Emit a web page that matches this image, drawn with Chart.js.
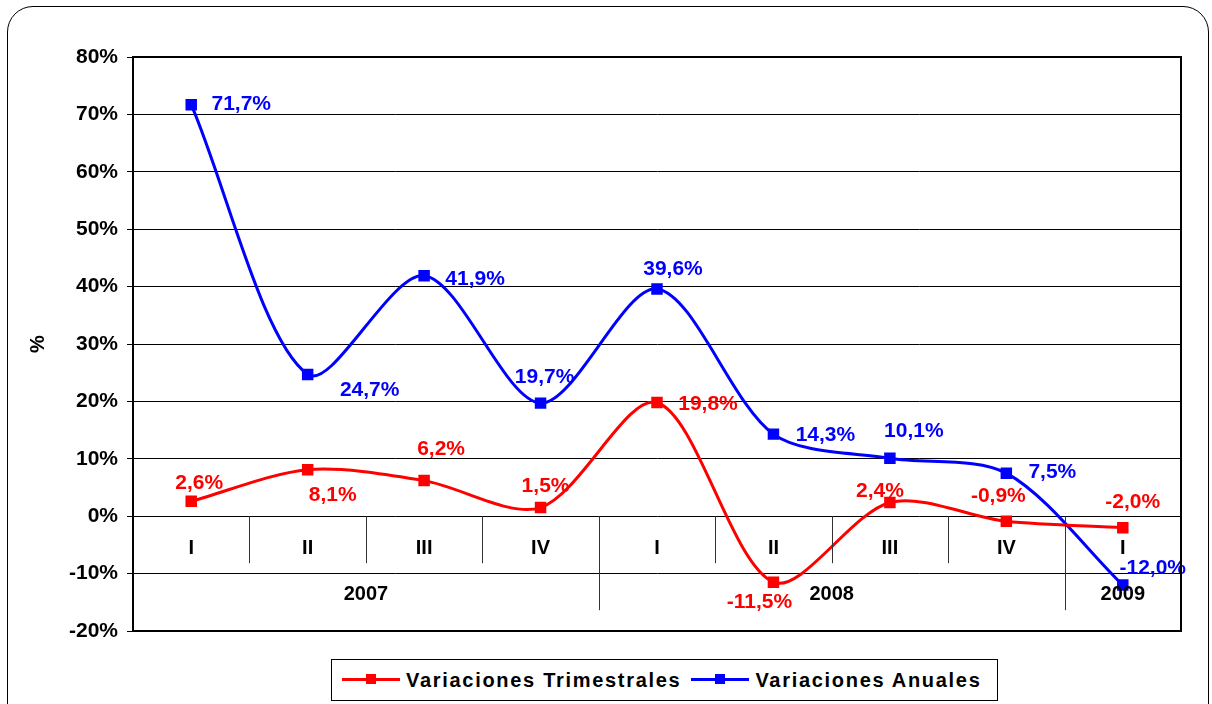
<!DOCTYPE html>
<html>
<head>
<meta charset="utf-8">
<script src="https://cdn.jsdelivr.net/npm/chart.js@4/dist/chart.umd.min.js"></script>
<style>
    html, body { margin: 0; padding: 0; background: #fff; overflow: hidden; }
    #wrap { position: relative; width: 1212px; height: 704px; }
    #frame { position: absolute; left: 7px; top: 6px; width: 1200px; height: 740px; border: 1px solid #000; border-radius: 26px; }
    #chart { position: absolute; left: 0; top: 0; }
    #legend { position: absolute; left: 331px; top: 659px; width: 665px; height: 40px; border: 1px solid #000; background: #fff;
        font: bold 20px Arial, "Liberation Sans", sans-serif; letter-spacing: 1.7px; display: flex; align-items: center; }
    .item { display: flex; align-items: center; margin-left: 10px; }
    .sym { position: relative; width: 58px; height: 12px; margin-right: 6px; }
    .sym .ln { position: absolute; left: 0; top: 4px; width: 58px; height: 3px; }
    .sym .sq { position: absolute; left: 24px; top: 0; width: 10px; height: 10px; }
</style>
</head>
<body>
<div id="wrap">
    <div id="frame"></div>
    <canvas id="chart" width="1212" height="704"></canvas>
    <div id="legend"></div>
</div>
<script>
const quarters = ['I', 'II', 'III', 'IV', 'I', 'II', 'III', 'IV', 'I'];
const years = ['2007', '2008', '2009'];
const year_spans = [4, 4, 1];
const trimestrales = [2.6, 8.1, 6.2, 1.5, 19.8, -11.5, 2.4, -0.9, -2.0];
const anuales = [71.7, 24.7, 41.9, 19.7, 39.6, 14.3, 10.1, 7.5, -12.0];
const series_names = ['Variaciones Trimestrales', 'Variaciones Anuales'];
const series_colors = ['#ff0000', '#0000ff'];

// label placement (offset of text centre from the point), per series
const label_offsets = [
    [[8, -18], [25, 25], [17, -31], [5, -21], [51, 2], [-14, 20], [-10, -11], [-8, -25], [10, -25]],
    [[50, 0], [62, 16], [51, 4], [4, -26], [16, -20], [52, 1], [24, -27], [46, -1], [30, -17]]
];

const font_family = 'Arial, "Liberation Sans", sans-serif';

function fmt(v) {
    return v.toFixed(1).replace('.', ',') + '%';
}

// legend
const legend = document.getElementById('legend');
series_names.forEach((name, i) => {
    const it = document.createElement('div');
    it.className = 'item';
    it.innerHTML = `<div class="sym"><div class="ln" style="background:${series_colors[i]}"></div><div class="sq" style="background:${series_colors[i]}"></div></div><span>${name}</span>`;
    legend.appendChild(it);
});

const frame_plugin = {
    id: 'frame_plugin',
    afterDraw(chart) {
        const ctx = chart.ctx;
        const a = chart.chartArea;
        const x = chart.scales.x;
        const y = chart.scales.y;
        const y0 = y.getPixelForValue(0);
        const half = (x.getPixelForValue(1) - x.getPixelForValue(0)) / 2;
        ctx.save();
        // category separators
        ctx.strokeStyle = '#333';
        ctx.lineWidth = 1;
        let idx = 0;
        const year_starts = [];
        years.forEach((yr, k) => { year_starts.push(idx); idx += year_spans[k]; });
        for (let i = 1; i < quarters.length; i++) {
            const px = Math.round(x.getPixelForValue(i) - half) + 0.5;
            const is_year = year_starts.includes(i);
            ctx.beginPath();
            ctx.moveTo(px, y0);
            ctx.lineTo(px, is_year ? y0 + 94 : y0 + 47);
            ctx.stroke();
        }
        // category labels
        ctx.fillStyle = '#000';
        ctx.font = 'bold 20px ' + font_family;
        ctx.textAlign = 'center';
        ctx.textBaseline = 'middle';
        quarters.forEach((q, i) => {
            ctx.fillText(q, x.getPixelForValue(i), y0 + 32);
        });
        idx = 0;
        years.forEach((yr, k) => {
            const x1 = x.getPixelForValue(idx) - half;
            const x2 = x.getPixelForValue(idx + year_spans[k] - 1) + half;
            ctx.fillText(yr, (x1 + x2) / 2, y0 + 78);
            idx += year_spans[k];
        });
        // data labels
        ctx.font = 'bold 21px ' + font_family;
        chart.data.datasets.forEach((ds, d) => {
            const meta = chart.getDatasetMeta(d);
            ctx.fillStyle = series_colors[d];
            meta.data.forEach((pt, i) => {
                const off = label_offsets[d][i];
                ctx.fillText(fmt(ds.data[i]), pt.x + off[0], pt.y + off[1]);
            });
        });
        // plot border
        ctx.strokeStyle = '#000';
        ctx.lineWidth = 2;
        ctx.strokeRect(a.left, a.top, a.right - a.left, a.bottom - a.top);
        ctx.restore();
    }
};

new Chart(document.getElementById('chart').getContext('2d'), {
    type: 'line',
    data: {
        labels: quarters,
        datasets: [
            {
                label: series_names[0],
                data: trimestrales,
                borderColor: series_colors[0],
                backgroundColor: series_colors[0],
                borderWidth: 3,
                pointStyle: 'rect',
                pointRadius: 6,
                tension: 0.3
            },
            {
                label: series_names[1],
                data: anuales,
                borderColor: series_colors[1],
                backgroundColor: series_colors[1],
                borderWidth: 3,
                pointStyle: 'rect',
                pointRadius: 6,
                tension: 0.3
            }
        ]
    },
    options: {
        responsive: false,
        animation: false,
        layout: { padding: { left: 0, top: 57, right: 31, bottom: 73 } },
        plugins: {
            legend: { display: false },
            tooltip: { enabled: false }
        },
        scales: {
            x: {
                display: false,
                offset: true
            },
            y: {
                min: -20,
                max: 80,
                ticks: {
                    stepSize: 10,
                    color: '#000',
                    font: { family: font_family, size: 21, weight: 'bold' },
                    padding: 9,
                    callback: v => v + '%'
                },
                grid: { color: '#000', lineWidth: 1, tickLength: 6 },
                border: { color: '#000', width: 2 },
                title: {
                    display: true,
                    text: '%',
                    color: '#000',
                    padding: { top: 26, bottom: 0 },
                    font: { family: font_family, size: 20, weight: 'bold' }
                },
                afterFit(scale) { scale.width = 133; }
            }
        }
    },
    plugins: [frame_plugin]
});
</script>
</body>
</html>
